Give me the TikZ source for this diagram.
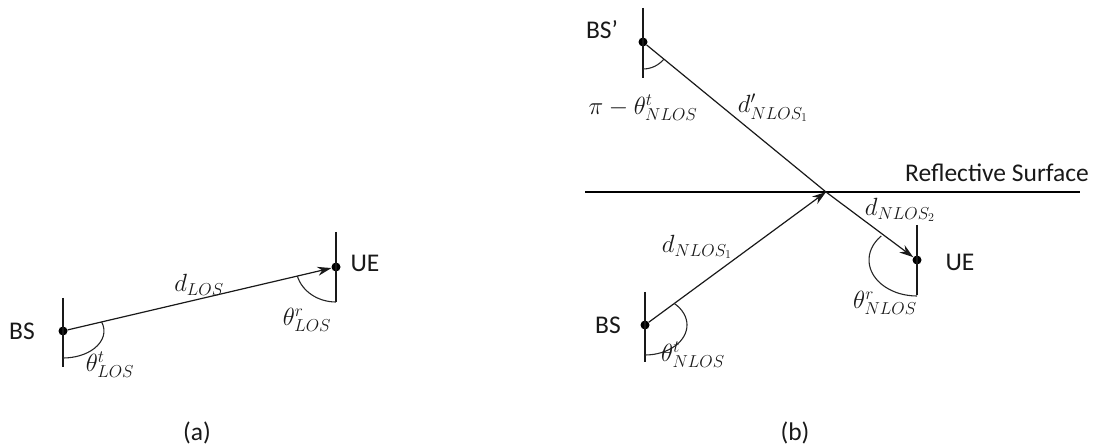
\documentclass[tikz,border=0pt]{standalone}
\usepackage{fontspec}
\setmainfont{Carlito}
\usetikzlibrary{arrows.meta,calc}
\tikzset{
  dotnode/.style={circle,fill=black,inner sep=0pt,minimum size=9pt},
  vline/.style={line width=1.3pt,black!90},
  ray/.style={line width=1.2pt,black!90},
  arrowray/.style={ray,-{Stealth[length=14pt,width=9pt]}},
  surface/.style={line width=2.4pt},
  anglearc/.style={line width=1.1pt,black!85},
  txt/.style={font=\fontsize{25.5}{30}\selectfont,inner sep=0pt,text=black!90},
  mtxt/.style={font=\fontsize{24}{28}\selectfont,inner sep=0pt,text=black!90},
}
\begin{document}
\begin{tikzpicture}[x=1pt,y=1pt]
\useasboundingbox (0,0) rectangle (1097,444);
% ---------- (a) ----------
\node[dotnode] (bsa) at (63,113) {};
\node[dotnode] (uea) at (336,177) {};
\coordinate (bsaT) at (63,146); \coordinate (bsaB) at (63,77);
\coordinate (ueaT) at (336,212); \coordinate (ueaB) at (336,142);
\draw[vline] (bsaT) -- (bsaB);
\draw[vline] (ueaT) -- (ueaB);
\draw[arrowray] (bsa) -- (uea);
\draw[anglearc] ($(bsa.center)+(19.6:41pt and 27pt)$) arc[start angle=19.6,end angle=-90,x radius=41pt,y radius=27pt];
\draw[anglearc] ($(uea.center)+(195:40pt and 35pt)$) arc[start angle=195,end angle=270,x radius=40pt,y radius=35pt];
\node[txt] (lbsa) at (22,113) {BS};
\node[txt] (luea) at (365,181) {UE};
\node[mtxt] (ldlos) at (199,159) {$d_{LOS}$};
\node[mtxt] (ltta) at (110,79) {$\theta^{t}_{LOS}$};
\node[mtxt] (ltra) at (307,124) {$\theta^{r}_{LOS}$};
\node[txt] (la) at (197,11) {(a)};
% ---------- (b) ----------
\coordinate (sL) at (585,252); \coordinate (sR) at (1080,252);
\coordinate (R) at (826,252);
\draw[surface] (sL) -- (sR);
\node[dotnode] (bsb) at (645,119) {};
\node[dotnode] (bsp) at (643,402) {};
\node[dotnode] (ueb) at (917,184) {};
\coordinate (bsbT) at (645,152); \coordinate (bsbB) at (645,82);
\coordinate (bspT) at (643,436); \coordinate (bspB) at (643,366);
\coordinate (uebT) at (917,219); \coordinate (uebB) at (917,149);
\draw[vline] (bsbT) -- (bsbB);
\draw[vline] (bspT) -- (bspB);
\draw[vline] (uebT) -- (uebB);
\draw[arrowray] (bsb) -- (R);
\draw[ray] (bsp) -- (R);
\draw[arrowray] (R) -- (ueb);
\draw[anglearc] ($(bsb.center)+(45.8:42pt and 30pt)$) arc[start angle=45.8,end angle=-90,x radius=42pt,y radius=30pt];
\draw[anglearc] ($(bsp.center)+(-90:27pt)$) arc[start angle=-90,end angle=-39.3,radius=27pt];
\draw[anglearc] ($(ueb.center)+(138:48pt and 36pt)$) arc[start angle=138,end angle=270,x radius=48pt,y radius=36pt];
\node[txt] (lbsb) at (608,119) {BS};
\node[txt] (lbsp) at (602,414) {BS’};
\node[txt] (lueb) at (960,182) {UE};
\node[txt] (lsurf) at (997,271) {Reflective Surface};
\node[mtxt] (ldp) at (773,336) {$d'_{NLOS_1}$};
\node[mtxt] (lpi) at (643,336) {$\pi-\theta^{t}_{NLOS}$};
\node[mtxt] (ld1) at (697,197) {$d_{NLOS_1}$};
\node[mtxt] (ld2) at (900,234) {$d_{NLOS_2}$};
\node[mtxt] (ltt) at (693,89) {$\theta^{t}_{NLOS}$};
\node[mtxt] (ltr) at (885,141) {$\theta^{r}_{NLOS}$};
\node[txt] (lb) at (795,11) {(b)};
\end{tikzpicture}
\end{document}
